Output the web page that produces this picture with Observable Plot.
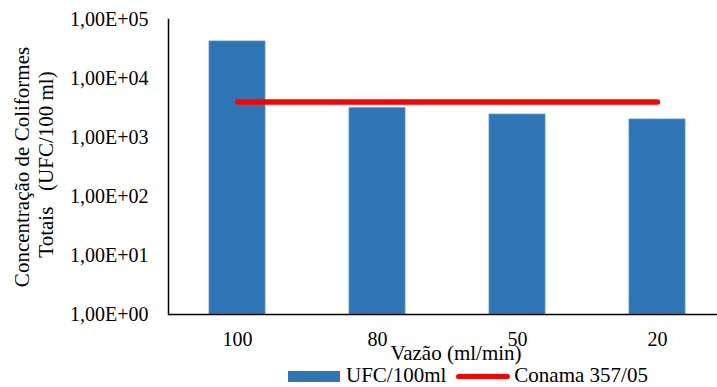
<!DOCTYPE html>
<html>
<head>
<meta charset="utf-8">
<script src="https://cdn.jsdelivr.net/npm/d3@7"></script>
<script src="https://cdn.jsdelivr.net/npm/@observablehq/plot@0.6"></script>
<style>
  html, body { margin: 0; padding: 0; background: #fff; }
  #wrap { position: relative; width: 717px; height: 387px; }
  #legend { position: absolute; left: 288px; top: 363.5px; display: flex; align-items: center;
            font-family: 'Liberation Serif'; font-size: 21px; line-height: 23px; color: #000; white-space: nowrap; }
  .sw { display: inline-block; position: relative; top: 1.5px; }
  #chart svg, #chart svg text { font-family: 'Liberation Serif' !important; }
</style>
</head>
<body>
<div id="wrap">
  <div id="chart"></div>
  <div id="legend" style="font-family:'Liberation Serif'">
    <span class="sw" style="width:52px;height:11px;background:#2e75b6;margin-right:6px"></span>UFC/100ml
    <span class="sw" style="width:54px;height:5px;background:#ff0000;border-radius:3px;margin-left:10px;margin-right:4px"></span>Conama 357/05
  </div>
</div>
<script>
const categories = ["100", "80", "50", "20"];
const ufc = [42400, 3140, 2450, 2020];
const conama = [4000, 4000, 4000, 4000];
const yTicks = [1, 10, 100, 1000, 10000, 100000];
const yTickLabels = ["1,00E+00", "1,00E+01", "1,00E+02", "1,00E+03", "1,00E+04", "1,00E+05"];
const xTitle = "Vazão (ml/min)";
const yTitle1 = "Concentração de Coliformes";
const yTitle2 = "Totais   (UFC/100 ml)";

const bars = categories.map((c, i) => ({cat: c, v: ufc[i]}));
const limit = categories.map((c, i) => ({cat: c, v: conama[i]}));
const FONT = "Liberation Serif";

const chart = Plot.plot({
  width: 717,
  height: 387,
  marginTop: 19,
  marginBottom: 73,
  marginLeft: 168,
  marginRight: 0,
  style: {fontFamily: FONT, fontSize: "20px", color: "#000", background: "#fff", overflow: "visible"},
  x: {type: "band", domain: categories, range: [167, 727], paddingInner: 0.6, paddingOuter: 0.3, label: null},
  y: {type: "log", domain: [1, 100000], label: null},
  marks: [
    Plot.barY(bars, {x: "cat", y1: 1, y2: "v", fill: "#2e75b6", stroke: "#5b92c8", strokeWidth: 0.8}),
    Plot.line(limit, {x: "cat", y: "v", stroke: "#ff0000", strokeWidth: 5.5, strokeLinecap: "round"}),
    Plot.frame({anchor: "left", stroke: "#000", strokeWidth: 1.5}),
    Plot.ruleY([1], {stroke: "#000", strokeWidth: 1.5}),
    Plot.axisY({ticks: yTicks, tickFormat: (d) => yTickLabels[yTicks.indexOf(d)], tickSize: 0, tickPadding: 20, fontSize: 20, fontFamily: FONT, label: null}),
    Plot.axisX({tickSize: 0, tickPadding: 17, fontSize: 20, fontFamily: FONT, label: null}),
    Plot.text([xTitle], {frameAnchor: "bottom", textAnchor: "middle", lineAnchor: "middle", dx: 13, dy: 38.3, fontSize: 21, fontFamily: FONT, text: (d) => d}),
    Plot.text([yTitle1], {frameAnchor: "left", textAnchor: "middle", lineAnchor: "middle", rotate: -90, dx: -146, dy: 0, fontSize: 21, fontFamily: FONT, text: (d) => d}),
    Plot.text([yTitle2], {frameAnchor: "left", textAnchor: "middle", lineAnchor: "middle", rotate: -90, dx: -122, dy: -2.5, fontSize: 21, fontFamily: FONT, text: (d) => d})
  ]
});
document.getElementById("chart").appendChild(chart);
chart.querySelectorAll("text").forEach(t => { t.setAttribute("xml:space", "preserve"); t.style.whiteSpace = "pre"; });
</script>
</body>
</html>
